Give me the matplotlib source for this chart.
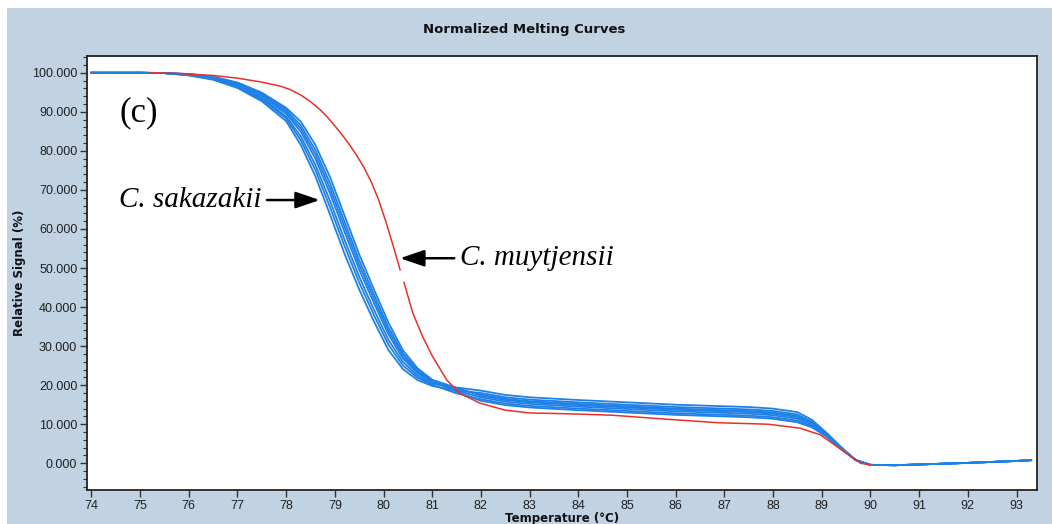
import numpy as np
import matplotlib.pyplot as plt
from matplotlib.patches import Rectangle
from matplotlib.ticker import MultipleLocator, FormatStrFormatter

# temperature grid shared by the C. sakazakii curves
temps = [74, 75, 75.5, 76, 76.5, 77, 77.5, 78, 78.3, 78.6, 78.9, 79.2, 79.5,
         79.8, 80.1, 80.4, 80.7, 81, 81.5, 82, 82.5, 83, 84, 85, 86, 87, 87.5,
         88, 88.5, 88.8, 89.1, 89.4, 89.7, 90, 90.5, 91, 92, 93, 93.3]

# C. sakazakii replicates (relative signal %)
sak_1 = [100, 100, 99.9, 99.3, 98.2, 96.1, 92.7, 87.6, 81.5, 73.5, 63.7, 53.6, 44.5,
         36.4, 29.0, 24.1, 21.3, 19.8, 18.6, 18.0, 16.9, 16.3, 15.6, 15.0, 14.4, 14.0, 13.8,
         13.4, 12.5, 10.6, 7.6, 4.0, 0.8, -0.4, -0.5, -0.3, 0.1, 0.6, 0.8]
sak_2 = [100, 100, 99.9, 99.4, 98.4, 96.4, 93.1, 88.3, 82.7, 75.1, 65.6, 55.6, 46.3,
         38.0, 30.4, 25.0, 21.9, 20.1, 17.9, 16.4, 15.3, 14.7, 14.0, 13.4, 12.8, 12.4, 12.2,
         11.8, 10.9, 9.5, 6.9, 3.7, 0.8, -0.4, -0.5, -0.3, 0.1, 0.6, 0.8]
sak_3 = [100, 100, 99.9, 99.4, 98.5, 96.6, 93.5, 88.8, 83.7, 76.4, 67.2, 57.2, 47.8,
         39.4, 31.6, 25.9, 22.4, 20.4, 19.4, 18.6, 17.5, 16.9, 16.2, 15.6, 15.0, 14.6, 14.4,
         14.0, 13.1, 11.1, 7.8, 4.1, 0.8, -0.4, -0.5, -0.3, 0.1, 0.6, 0.8]
sak_4 = [100, 100, 99.9, 99.5, 98.7, 96.9, 93.9, 89.5, 84.9, 78.0, 69.1, 59.2, 49.6,
         41.1, 33.0, 26.8, 23.0, 20.7, 18.6, 16.9, 15.8, 15.2, 14.5, 13.9, 13.3, 12.9, 12.7,
         12.3, 11.4, 9.9, 7.1, 3.8, 0.8, -0.4, -0.5, -0.3, 0.1, 0.6, 0.8]
sak_5 = [100, 100, 99.9, 99.6, 98.8, 97.1, 94.3, 90.0, 85.7, 79.1, 70.4, 60.5, 50.8,
         42.2, 33.9, 27.5, 23.4, 20.9, 19.1, 17.6, 16.5, 15.9, 15.2, 14.6, 14.0, 13.6, 13.4,
         13.0, 12.1, 10.4, 7.4, 3.9, 0.8, -0.4, -0.5, -0.3, 0.1, 0.6, 0.8]
sak_6 = [100, 100, 99.9, 99.6, 98.9, 97.3, 94.6, 90.5, 86.5, 80.2, 71.7, 61.8, 52.0,
         43.3, 34.8, 28.1, 23.8, 21.1, 18.3, 16.0, 14.9, 14.3, 13.6, 13.0, 12.4, 12.0, 11.8,
         11.4, 10.5, 9.2, 6.8, 3.6, 0.8, -0.4, -0.5, -0.3, 0.1, 0.6, 0.8]
sak_7 = [100, 100, 99.9, 99.7, 99.0, 97.5, 94.9, 91.0, 87.5, 81.5, 73.3, 63.4, 53.5,
         44.6, 36.0, 28.9, 24.3, 21.4, 19.3, 17.3, 16.2, 15.6, 14.9, 14.3, 13.7, 13.3, 13.1,
         12.7, 11.8, 10.1, 7.3, 3.8, 0.8, -0.4, -0.5, -0.3, 0.1, 0.6, 0.8]
sakazakii = [sak_1, sak_2, sak_3, sak_4, sak_5, sak_6, sak_7]

# C. muytjensii (single curve, small gap in the trace near 80.4 C)
muy_temps = [75.2, 75.8, 76.5, 77, 77.5, 77.9, 78.1, 78.3, 78.5, 78.7, 78.85, 79.0,
             79.15, 79.3, 79.45, 79.6, 79.75, 79.9, 80.05, 80.2, 80.34, 80.38, 80.42,
             80.6, 80.8, 81.0, 81.3, 81.57, 81.98, 82.5, 83.0, 84.0, 84.7, 85.8, 86.85,
             87.9, 88.55, 88.97, 89.5, 89.8, 90.0]
muy_signal = [100, 99.8, 99.3, 98.6, 97.6, 96.5, 95.6, 94.3, 92.6, 90.5, 88.6, 86.4,
              84.1, 81.6, 78.8, 75.7, 72.0, 67.4, 61.8, 55.6, 49.5, np.nan, 46.3,
              38.5, 32.5, 27.5, 21.3, 17.9, 15.4, 13.6, 12.9, 12.6, 12.3, 11.3, 10.4,
              10.0, 9.0, 7.3, 2.6, 0.0, -0.4]

x_ticks = list(range(74, 94))
bg = '#c1d2e3'
blue = '#1f80e6'
red = '#e8302a'

fig = plt.figure(figsize=(10.52, 5.24), dpi=100, facecolor='white')
fig.patches.append(Rectangle((7 / 1052, 0), 1 - 7 / 1052, 1 - 8 / 524,
                             transform=fig.transFigure, facecolor=bg,
                             edgecolor='none', zorder=-10))

ax = fig.add_axes([87 / 1052, 34 / 524, 950 / 1052, 434 / 524])
ax.set_facecolor('white')

for curve in sakazakii:
    ax.plot(temps, curve, color=blue, lw=1.3, zorder=2)
ax.plot(muy_temps, muy_signal, color=red, lw=1.1, zorder=3)

ax.set_xlim(73.91, 93.42)
ax.set_xticks(x_ticks)
ax.yaxis.set_major_locator(MultipleLocator(10))
ax.yaxis.set_minor_locator(MultipleLocator(2))
ax.set_ylim(-6.84, 104.28)
ax.yaxis.set_major_formatter(FormatStrFormatter('%.3f'))

for lab in ax.get_xticklabels() + ax.get_yticklabels():
    lab.set_fontfamily('Liberation Sans')
    lab.set_fontsize(9)
    lab.set_color('#202020')
ax.tick_params(axis='both', which='major', length=5, width=1, color='#333333', pad=2)
ax.tick_params(axis='y', which='minor', length=3, width=0.8, color='#333333')

for sp in ax.spines.values():
    sp.set_color('#222222')
    sp.set_linewidth(1.3)

fig.text(524 / 1052, 1 - 29 / 524, 'Normalized Melting Curves', ha='center', va='center',
         fontsize=9.5, fontweight='bold', family='DejaVu Sans', color='#111111')
ax.set_xlabel('Temperature (°C)', fontsize=8.5, fontweight='bold', family='DejaVu Sans',
              labelpad=0, color='#111111')
ax.set_ylabel('Relative Signal (%)', fontsize=8.5, fontweight='bold', family='DejaVu Sans',
              labelpad=4, color='#111111')

serif = 'Liberation Serif'
ax.text(0.034, 0.869, '(c)', transform=ax.transAxes, fontsize=25, family=serif,
        ha='left', va='center')
arrow = dict(arrowstyle='-|>,head_length=0.7,head_width=0.24', color='black',
             lw=1.8, shrinkA=2, shrinkB=0)
ax.annotate('C. sakazakii', xy=(78.69, 67.4), xytext=(-42, 0), textcoords='offset points',
            fontsize=21, family=serif, style='italic', ha='right', va='center',
            arrowprops=arrow)
ax.annotate('C. muytjensii', xy=(80.34, 52.5), xytext=(43, 0), textcoords='offset points',
            fontsize=21, family=serif, style='italic', ha='left', va='center',
            arrowprops=arrow)

fig.savefig('out.png', dpi=100, facecolor=fig.get_facecolor())
